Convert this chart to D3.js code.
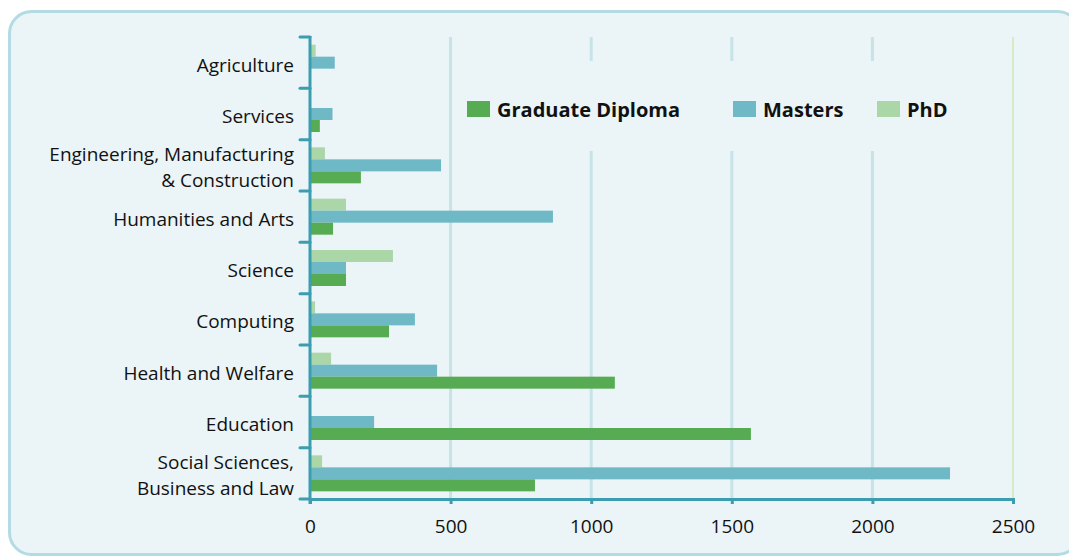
<!DOCTYPE html>
<html>
<head>
<meta charset="utf-8">
<script src="https://cdn.jsdelivr.net/npm/d3@7"></script>
<style>
  html, body { margin: 0; padding: 0; background: #ffffff; }
  svg { display: block; }
  text { font-family: "Open Sans", "Noto Sans", sans-serif; fill: #111; }
</style>
</head>
<body>
<svg id="chart" width="1069" height="556"></svg>
<script>
// Graduates by field of study and award level
const categories = [
  "Agriculture",
  "Services",
  "Engineering, Manufacturing\n& Construction",
  "Humanities and Arts",
  "Science",
  "Computing",
  "Health and Welfare",
  "Education",
  "Social Sciences,\nBusiness and Law"
];
const seriesNames = ["PhD", "Masters", "Graduate Diploma"];
const phd      = [20, 0, 53, 128, 295, 18, 75, 0, 43];
const masters  = [88, 80, 466, 864, 128, 373, 452, 228, 2276];
const gradDip  = [0, 35, 181, 82, 128, 281, 1084, 1568, 800];
const xTicks   = [0, 500, 1000, 1500, 2000, 2500];
const legendOrder = ["Graduate Diploma", "Masters", "PhD"];

const colors = {
  "Graduate Diploma": "#57ab53",
  "Masters": "#6fb9c6",
  "PhD": "#abd6a8"
};
const seriesValues = { "PhD": phd, "Masters": masters, "Graduate Diploma": gradDip };

const svg = d3.select("#chart");

// panel background
svg.append("rect")
  .attr("x", 9.5).attr("y", 11.5)
  .attr("width", 1070).attr("height", 543)
  .attr("rx", 22).attr("ry", 22)
  .attr("fill", "#ebf4f6")
  .attr("stroke", "#b3dbe3")
  .attr("stroke-width", 3);

const plotL = 310, plotR = 1013, plotT = 37, plotB = 499;

const x = d3.scaleLinear().domain([0, 2500]).range([plotL, plotR]);
const y = d3.scaleBand().domain(categories).range([plotT, plotB]).paddingInner(0).paddingOuter(0);
const inner = d3.scaleBand().domain(seriesNames)
  .range([0, y.bandwidth()]).paddingInner(0).paddingOuter(0.64);

// vertical grid
svg.append("g").selectAll("line")
  .data(xTicks.slice(1))
  .join("line")
  .attr("x1", d => x(d)).attr("x2", d => x(d))
  .attr("y1", plotT).attr("y2", plotB)
  .attr("stroke", d => d === 2500 ? "#d4ebc4" : "#c6e3e8")
  .attr("stroke-width", d => d === 2500 ? 2 : 3);

// bars
const rows = categories.map((c, i) => ({ c, i }));
const groups = svg.append("g").selectAll("g")
  .data(rows)
  .join("g")
  .attr("transform", d => `translate(0,${y(d.c)})`);

groups.selectAll("rect")
  .data(d => seriesNames.map(s => ({ s, v: seriesValues[s][d.i] })))
  .join("rect")
  .attr("x", x(0))
  .attr("y", d => inner(d.s))
  .attr("width", d => x(d.v) - x(0))
  .attr("height", inner.bandwidth())
  .attr("fill", d => colors[d.s]);

// legend panel hides the grid behind it
const legend = svg.append("g");
legend.append("rect")
  .attr("x", 458).attr("y", 61).attr("width", 540).attr("height", 90)
  .attr("fill", "#ebf4f6");
const legendX = [467, 733, 877];
legendOrder.forEach((name, i) => {
  legend.append("rect")
    .attr("x", legendX[i]).attr("y", 101)
    .attr("width", 23).attr("height", 16)
    .attr("fill", colors[name]);
  legend.append("text")
    .attr("x", legendX[i] + 30).attr("y", 109)
    .attr("dominant-baseline", "central")
    .attr("font-size", 20)
    .attr("font-weight", 700)
    .text(name);
});

// x axis
const axisColor = "#3d9db0";
const xAxis = svg.append("g").attr("transform", `translate(0,${plotB})`)
  .call(d3.axisBottom(x).tickValues(xTicks).tickSize(5).tickPadding(16).tickFormat(d3.format("d")));
xAxis.select(".domain").attr("stroke", axisColor).attr("stroke-width", 3);
xAxis.selectAll(".tick line").attr("stroke", axisColor).attr("stroke-width", 3);
xAxis.selectAll(".tick text")
  .attr("font-size", 19)
  .attr("font-family", "'Open Sans', 'Noto Sans', sans-serif")
  .attr("fill", "#111");

// y axis: line with ticks on category boundaries
const yAxis = svg.append("g");
yAxis.append("line")
  .attr("x1", plotL).attr("x2", plotL)
  .attr("y1", plotT - 1).attr("y2", plotB + 5)
  .attr("stroke", axisColor).attr("stroke-width", 3);
const boundaries = categories.map(c => y(c)).concat([plotB]);
yAxis.selectAll("line.tick")
  .data(boundaries)
  .join("line")
  .attr("class", "tick")
  .attr("x1", plotL - 10).attr("x2", plotL)
  .attr("y1", d => d).attr("y2", d => d)
  .attr("stroke", axisColor).attr("stroke-width", 3)
  .attr("stroke-linecap", "round");

// category labels (two-line names are stacked)
const labels = svg.append("g");
categories.forEach(c => {
  const lines = c.split("\n");
  const cy = y(c) + y.bandwidth() / 2 + 2;
  const lh = 26;
  const t = labels.append("text")
    .attr("text-anchor", "end")
    .attr("font-size", 19)
    .attr("fill", "#111");
  lines.forEach((ln, k) => {
    t.append("tspan")
      .attr("x", 294)
      .attr("y", cy + (k - (lines.length - 1) / 2) * lh)
      .attr("dominant-baseline", "central")
      .text(ln);
  });
});
</script>
</body>
</html>
